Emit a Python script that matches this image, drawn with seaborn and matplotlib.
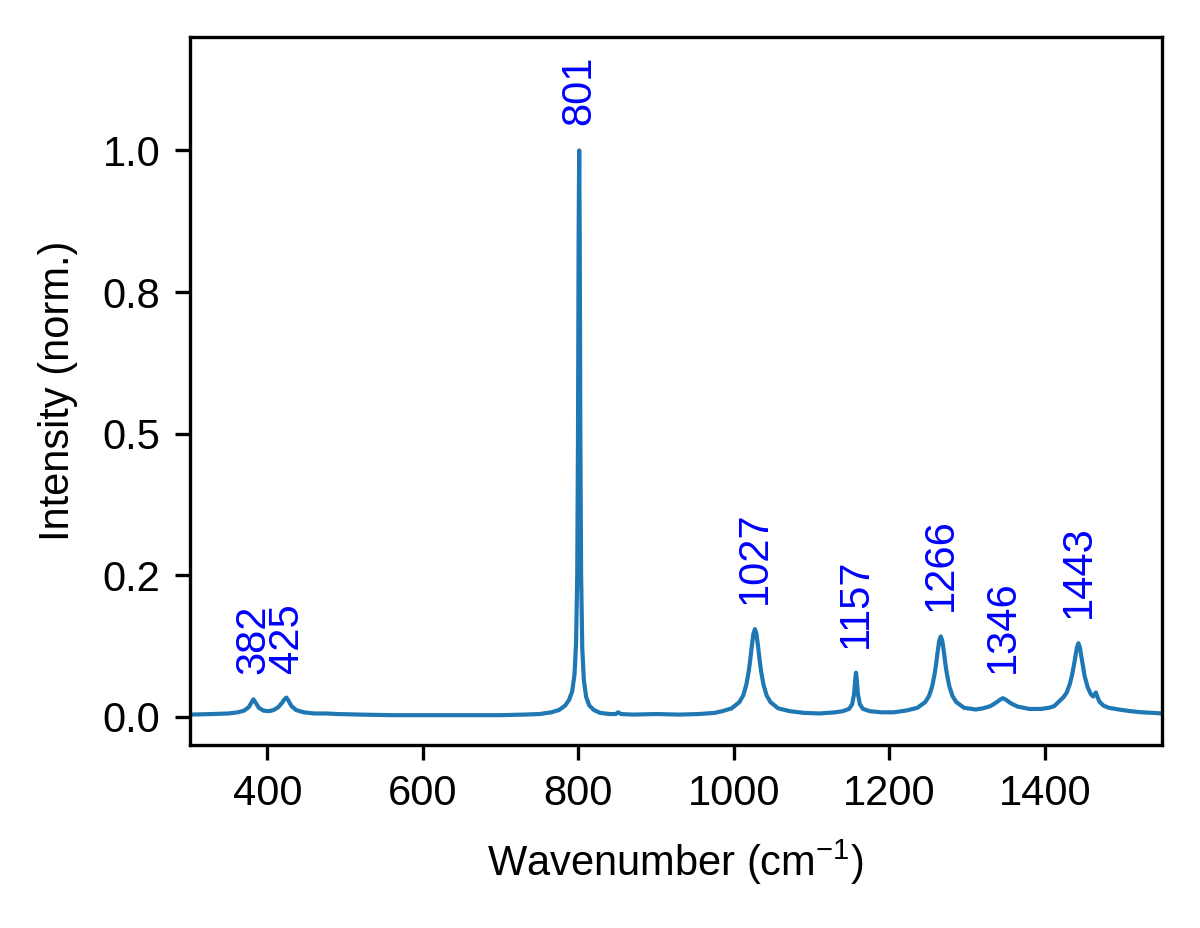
import numpy as np
import pandas as pd
import matplotlib
matplotlib.use("Agg")
import matplotlib.pyplot as plt
import seaborn as sns
from matplotlib.ticker import FormatStrFormatter

# ==========================================
# DATA
# ==========================================
wavenumber = [
    300, 330, 350, 362, 370, 376, 379, 382, 385, 389, 395, 402, 408, 414, 419,
    422, 424.5, 427, 431, 437, 447, 460, 475, 490, 520, 560, 600, 650, 700,
    730, 750, 765, 775, 783, 788, 792, 795, 797, 798.5, 799.5, 800.3, 801,
    801.7, 802.5, 803.5, 805, 807, 810, 814, 820, 828, 840, 848, 851, 855,
    870, 900, 930, 955, 975, 985, 997, 1007, 1012, 1016, 1019, 1021, 1023,
    1025, 1027, 1029, 1031, 1033, 1035, 1038, 1042, 1047, 1057, 1072, 1090,
    1110, 1130, 1140, 1148, 1152, 1154.5, 1156, 1157, 1158, 1159.5, 1162,
    1166, 1175, 1190, 1205, 1221, 1236, 1246, 1251, 1255, 1258, 1260, 1262,
    1264, 1266, 1268, 1270, 1272, 1274, 1277, 1281, 1286, 1296, 1311, 1320,
    1330, 1338, 1343, 1346, 1350, 1356, 1365, 1380, 1395, 1405, 1412, 1418,
    1424, 1428, 1432, 1435, 1438, 1441, 1443, 1445, 1448, 1451, 1455, 1459,
    1462, 1464, 1465.5, 1467, 1470, 1475, 1482, 1495, 1510, 1525, 1540, 1550,
]
intensity = [
    0.004, 0.005, 0.006, 0.008, 0.011, 0.017, 0.024, 0.031, 0.025, 0.016,
    0.011, 0.010, 0.012, 0.017, 0.025, 0.031, 0.034, 0.029, 0.019, 0.012,
    0.008, 0.006, 0.006, 0.005, 0.004, 0.003, 0.003, 0.003, 0.003, 0.004,
    0.005, 0.008, 0.012, 0.020, 0.030, 0.045, 0.075, 0.13, 0.25, 0.50, 0.85,
    1.0, 0.85, 0.50, 0.25, 0.12, 0.065, 0.035, 0.020, 0.012, 0.007, 0.005,
    0.005, 0.008, 0.005, 0.004, 0.005, 0.004, 0.005, 0.007, 0.010, 0.015,
    0.026, 0.038, 0.057, 0.080, 0.101, 0.125, 0.146, 0.155, 0.146, 0.125,
    0.101, 0.080, 0.057, 0.038, 0.026, 0.015, 0.010, 0.007, 0.006, 0.008,
    0.010, 0.014, 0.022, 0.040, 0.065, 0.078, 0.065, 0.040, 0.022, 0.014,
    0.010, 0.008, 0.008, 0.011, 0.016, 0.026, 0.037, 0.054, 0.075, 0.093,
    0.115, 0.134, 0.142, 0.134, 0.115, 0.093, 0.075, 0.054, 0.037, 0.026,
    0.016, 0.013, 0.015, 0.019, 0.026, 0.031, 0.033, 0.030, 0.024, 0.018,
    0.014, 0.014, 0.016, 0.019, 0.027, 0.035, 0.043, 0.058, 0.075, 0.097,
    0.122, 0.130, 0.122, 0.097, 0.072, 0.052, 0.040, 0.036, 0.040, 0.043,
    0.037, 0.027, 0.020, 0.016, 0.013, 0.010, 0.008, 0.007, 0.006,
]
peak_labels = [382, 425, 801, 1027, 1157, 1266, 1346, 1443]

df = pd.DataFrame({"Wavenumber": wavenumber, "Intensity": intensity})

# ==========================================
# STYLE
# ==========================================
sns.set_style("ticks")
plt.rcParams["font.family"] = ["Liberation Sans", "DejaVu Sans"]
plt.rcParams["mathtext.fontset"] = "custom"
plt.rcParams["mathtext.rm"] = "Liberation Sans"
plt.rcParams["mathtext.it"] = "Liberation Sans:italic"
plt.rcParams["font.size"] = 10
for key in ["text.color", "axes.labelcolor", "xtick.color", "ytick.color"]:
    plt.rcParams[key] = "black"

fig, ax = plt.subplots(figsize=(4, 928 / 300), dpi=300)
fig.subplots_adjust(left=0.158, right=0.968, top=0.960, bottom=0.197)

sns.lineplot(data=df, x="Wavenumber", y="Intensity", color="#1f77b4",
             linewidth=1.0, ax=ax)

# peak labels
for p in peak_labels:
    h = np.interp(p, wavenumber, intensity)
    ax.annotate(str(p), xy=(p, h), xytext=(0, 6), textcoords="offset points",
                rotation=90, ha="center", va="bottom", color="blue", fontsize=10)

ax.set_xlim(300, 1550)
ax.set_ylim(-0.05, 1.2)
ax.set_yticks([0, 0.25, 0.5, 0.75, 1.0])
ax.yaxis.set_major_formatter(FormatStrFormatter("%.1f"))
ax.set_xlabel("Wavenumber (cm$^{-1}$)", fontsize=10, labelpad=5.5)
ax.set_ylabel("Intensity (norm.)", fontsize=10, labelpad=6)
ax.tick_params(labelsize=10, width=0.8, length=3.5, color="black")
for s in ax.spines.values():
    s.set_linewidth(0.8)
    s.set_color("black")

fig.savefig("out.png", dpi=300)
